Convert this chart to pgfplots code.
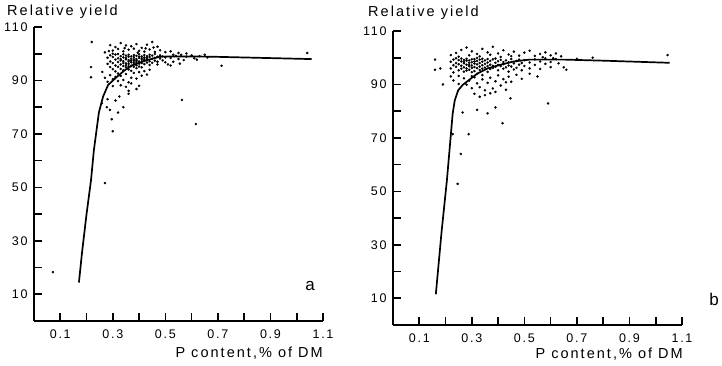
\documentclass[border=0pt]{standalone}
\usepackage{fontspec}
\setmainfont{Liberation Sans}[LetterSpace=14]
\usepackage{pgfplots}
\pgfplotsset{compat=1.18}
\pgfplotsset{panel/.style={
  scale only axis, width=289pt, height=294pt,
  xmin=0, xmax=1.1, ymin=0, ymax=110,
  axis x line=bottom, axis y line=left,
  axis line style={-, line width=1.6pt},
  xtick align=inside, ytick align=inside,
  major tick length=8pt,
  every tick/.style={black, line width=1.7pt},
  xtick={0.1,0.2,0.3,0.4,0.5,0.6,0.7,0.8,0.9,1.0,1.1},
  xticklabels={0.1,,0.3,,0.5,,0.7,,0.9,,1.1},
  ytick={10,20,30,40,50,60,70,80,90,100,110},
  yticklabels={10,,30,,50,,70,,90,,110},
  tick label style={font=\fontsize{12.5}{14}\selectfont},
  xticklabel style={yshift=-5pt},
  yticklabel style={xshift=-3pt},
  clip=false,
}}
\begin{document}
\begin{tikzpicture}
\useasboundingbox (0,0) rectangle (722pt,365pt);
% ---------------- panel a ----------------
\begin{axis}[panel, at={(34pt,44pt)}, anchor=south west]
\addplot[only marks, mark=*, mark size=1.05pt, black] coordinates {
(0.29,103.2)(0.31,102.5)(0.33,104.0)(0.35,103.1)(0.37,102.8)(0.39,103.6)(0.41,102.2)(0.43,103.4)(0.45,104.4)(0.47,102.6)
(0.30,101.2)(0.32,101.8)(0.34,100.9)(0.36,101.5)(0.38,101.9)(0.40,101.1)(0.42,100.8)(0.44,101.6)(0.46,100.7)(0.48,101.3)
(0.50,100.6)(0.27,100.5)(0.285,101.0)(0.345,102.1)(0.395,100.4)(0.425,102.0)(0.455,102.3)(0.52,100.9)(0.55,100.3)(0.58,100.1)(0.53,99.6)
(0.28,98.5)(0.28,96.2)
(0.29,99.4)(0.29,97.1)(0.29,95.0)
(0.30,98.8)(0.30,96.5)(0.30,94.2)(0.30,100.0)
(0.31,99.7)(0.31,97.8)(0.31,95.6)(0.31,93.4)
(0.32,98.3)(0.32,96.9)(0.32,95.1)(0.32,99.9)(0.32,92.6)
(0.33,99.1)(0.33,97.5)(0.33,96.0)(0.33,94.3)(0.33,98.0)
(0.34,98.6)(0.34,97.2)(0.34,95.4)(0.34,93.8)(0.34,99.8)(0.34,96.5)
(0.35,99.3)(0.35,97.9)(0.35,96.4)(0.35,94.9)(0.35,98.4)(0.35,95.7)
(0.36,98.9)(0.36,97.6)(0.36,96.2)(0.36,95.3)(0.36,99.6)(0.36,94.1)(0.36,97.0)
(0.37,99.0)(0.37,98.1)(0.37,96.8)(0.37,95.5)(0.37,97.4)(0.37,93.6)
(0.38,98.7)(0.38,97.3)(0.38,96.0)(0.38,99.5)(0.38,95.1)(0.38,97.9)(0.38,96.6)
(0.39,99.2)(0.39,98.0)(0.39,96.9)(0.39,95.7)(0.39,97.5)(0.39,94.6)
(0.40,98.4)(0.40,97.1)(0.40,99.8)(0.40,96.3)(0.40,95.2)(0.40,98.9)
(0.41,99.0)(0.41,97.7)(0.41,96.5)(0.41,98.3)(0.41,94.9)
(0.42,98.6)(0.42,97.4)(0.42,99.5)(0.42,96.1)(0.42,98.0)
(0.43,99.1)(0.43,97.9)(0.43,96.7)(0.43,98.5)
(0.44,98.8)(0.44,97.2)(0.44,99.6)(0.44,95.8)
(0.45,99.3)(0.45,98.1)(0.45,96.6)
(0.46,98.5)(0.46,97.4)(0.46,99.9)
(0.47,98.9)(0.47,97.0)(0.47,96.0)
(0.48,99.4)(0.48,98.2)
(0.49,97.5)(0.49,99.0)
(0.50,98.6)(0.50,96.8)
(0.52,98.4)(0.53,97.0)(0.54,99.2)(0.55,98.0)(0.56,99.6)(0.57,97.6)(0.58,98.9)(0.60,99.4)(0.61,98.3)(0.62,97.8)
(0.63,99.1)(0.65,99.6)(0.66,98.6)(0.51,96.0)(0.52,95.6)(0.555,96.3)
(0.29,92.0)(0.30,90.5)(0.31,91.3)(0.32,89.8)(0.33,91.7)(0.34,90.2)(0.35,92.4)(0.36,89.3)(0.37,91.0)(0.38,92.8)
(0.39,90.7)(0.40,93.1)(0.41,91.8)(0.42,93.5)(0.43,92.2)(0.44,94.0)(0.33,88.2)(0.35,87.6)(0.37,88.9)(0.39,86.8)
(0.36,86.1)(0.40,88.0)(0.30,87.9)(0.28,89.5)(0.27,91.0)(0.26,93.2)
(0.258,81.5)(0.277,80.0)(0.289,79.0)(0.32,78.0)(0.34,80.0)(0.36,85.0)(0.325,84.0)(0.30,71.0)(0.296,75.5)
(0.563,82.7)(0.616,73.7)(0.714,95.5)(1.04,100.3)(0.072,18.3)(0.27,51.6)(0.22,104.4)(0.217,95.0)(0.217,91.2)
(0.31,82.5)(0.28,83.0)
};
\addplot[line width=1.7pt, black] coordinates {
(0.171,14.4)(0.183,25.8)(0.200,40.0)(0.217,52.7)(0.228,64.0)(0.247,78.0)(0.263,84.0)(0.282,88.3)
(0.315,91.3)(0.345,93.8)(0.377,95.8)(0.43,97.6)(0.48,98.9)(0.55,99.0)(0.67,98.9)(0.80,98.6)(1.057,98.0)
};
\end{axis}
% ---------------- panel b ----------------
\begin{axis}[panel, at={(393pt,40pt)}, anchor=south west]
\addplot[only marks, mark=*, mark size=1.05pt, black] coordinates {
(0.22,101.0)(0.24,101.8)(0.26,102.9)(0.28,103.8)(0.30,102.4)(0.32,101.4)(0.34,103.3)(0.36,102.0)(0.38,104.1)(0.40,101.6)
(0.42,102.8)(0.44,101.2)(0.46,102.3)(0.48,100.8)(0.50,101.9)(0.52,102.6)(0.54,100.7)(0.56,101.4)(0.58,102.0)(0.60,100.9)
(0.62,101.6)(0.64,100.5)(0.25,100.4)(0.29,100.9)(0.33,100.5)(0.37,101.1)(0.41,100.3)(0.45,100.6)(0.57,100.2)(0.61,99.8)
(0.22,98.5)(0.22,96.0)
(0.23,99.3)(0.23,97.2)(0.23,94.5)
(0.24,98.0)(0.24,96.6)(0.24,99.8)
(0.25,99.1)(0.25,97.6)(0.25,95.3)(0.25,93.2)
(0.26,98.6)(0.26,97.0)(0.26,95.9)(0.26,99.7)
(0.27,99.2)(0.27,97.9)(0.27,96.4)(0.27,94.8)(0.27,98.4)
(0.28,98.9)(0.28,97.4)(0.28,96.0)(0.28,99.6)(0.28,95.2)
(0.29,99.0)(0.29,98.1)(0.29,96.8)(0.29,95.5)(0.29,97.3)
(0.30,98.3)(0.30,97.1)(0.30,99.4)(0.30,96.2)(0.30,94.6)(0.30,93.1)
(0.31,99.5)(0.31,97.8)(0.31,96.5)(0.31,98.6)(0.31,95.0)
(0.32,98.8)(0.32,97.5)(0.32,96.1)(0.32,99.9)(0.32,94.0)
(0.33,99.3)(0.33,98.0)(0.33,96.7)(0.33,95.4)
(0.34,98.5)(0.34,97.2)(0.34,99.6)(0.34,95.9)(0.34,93.5)
(0.35,99.0)(0.35,97.7)(0.35,96.3)
(0.36,98.2)(0.36,96.9)(0.36,99.5)(0.36,94.7)
(0.37,98.8)(0.37,97.4)(0.37,95.8)
(0.38,99.4)(0.38,97.0)(0.38,96.2)
(0.39,98.1)(0.39,96.6)(0.39,99.7)
(0.40,98.7)(0.40,97.3)(0.40,95.3)
(0.41,99.2)(0.41,96.9)
(0.42,98.4)(0.42,97.6)(0.42,95.9)
(0.43,99.0)(0.43,96.4)
(0.44,98.3)(0.44,97.1)(0.44,94.8)
(0.45,99.5)(0.45,96.7)
(0.46,97.9)(0.46,95.6)
(0.47,98.8)(0.47,96.2)
(0.48,99.3)(0.48,97.4)
(0.49,98.0)(0.49,95.3)
(0.50,99.1)(0.50,96.9)
(0.52,98.2)(0.52,96.0)(0.54,99.4)(0.54,97.3)(0.56,98.6)(0.56,95.8)(0.58,99.8)(0.58,97.7)(0.60,98.4)(0.60,96.5)
(0.62,99.5)(0.63,97.9)(0.65,96.4)
(0.22,93.0)(0.23,91.5)(0.25,90.2)(0.27,92.3)(0.28,89.9)(0.29,91.4)(0.30,88.6)(0.31,92.7)(0.32,90.4)(0.33,89.0)
(0.34,91.9)(0.35,87.8)(0.36,90.6)(0.37,92.5)(0.38,88.5)(0.39,91.2)(0.40,93.4)(0.41,89.6)(0.42,92.0)(0.43,90.8)
(0.44,92.9)(0.45,91.0)(0.47,93.6)(0.49,92.1)(0.52,94.0)(0.55,93.0)(0.35,86.0)(0.33,85.4)(0.37,86.7)(0.39,87.2)
(0.31,86.5)(0.43,88.0)
(0.258,64.0)(0.288,71.4)(0.227,71.4)(0.417,75.5)(0.59,82.9)(0.447,84.8)(0.39,81.4)(0.32,80.5)(0.36,79.2)(0.265,79.5)
(0.246,52.8)(1.045,101.0)(0.76,100.0)(0.70,99.6)(0.66,95.5)(0.16,99.3)(0.16,95.5)(0.18,96.0)(0.19,90.0)
};
\addplot[line width=1.7pt, black] coordinates {
(0.163,11.5)(0.185,35.0)(0.205,54.0)(0.220,71.0)(0.227,79.0)(0.235,84.0)(0.248,87.8)(0.265,89.8)(0.283,91.2)(0.32,94.0)(0.36,96.0)
(0.41,97.4)(0.46,98.6)(0.52,99.3)(0.65,99.3)(0.80,98.9)(1.053,98.1)
};
\end{axis}
% ---------------- tick marks (axis decoration) ----------------
\foreach \i in {1,...,11} {
  \draw[line width=1.7pt, black] ({(34+\i*289/11)*1pt},44pt) -- ({(34+\i*289/11)*1pt},52pt);
  \draw[line width=1.7pt, black] (34pt,{(44+\i*294/11)*1pt}) -- (42pt,{(44+\i*294/11)*1pt});
  \draw[line width=1.7pt, black] ({(393+\i*289/11)*1pt},40pt) -- ({(393+\i*289/11)*1pt},48pt);
  \draw[line width=1.7pt, black] (393pt,{(40+\i*294/11)*1pt}) -- (401pt,{(40+\i*294/11)*1pt});
}
% ---------------- texts ----------------
\node[anchor=base west, inner sep=0pt, font=\fontsize{14.5}{16}\selectfont] at (7pt,349pt) {Relative yield};
\node[anchor=base west, inner sep=0pt, font=\fontsize{14.5}{16}\selectfont] at (368pt,348pt) {Relative yield};
\node[anchor=base east, inner sep=0pt, font=\fontsize{14.5}{16}\selectfont] at (323pt,8pt) {P content,\% of DM};
\node[anchor=base east, inner sep=0pt, font=\fontsize{14.5}{16}\selectfont] at (683pt,7pt) {P content,\% of DM};
\node[inner sep=0pt, font=\fontsize{17}{19}\selectfont] at (310pt,79pt) {a};
\node[inner sep=0pt, font=\fontsize{17}{19}\selectfont] at (714pt,66pt) {b};
\end{tikzpicture}
\end{document}
